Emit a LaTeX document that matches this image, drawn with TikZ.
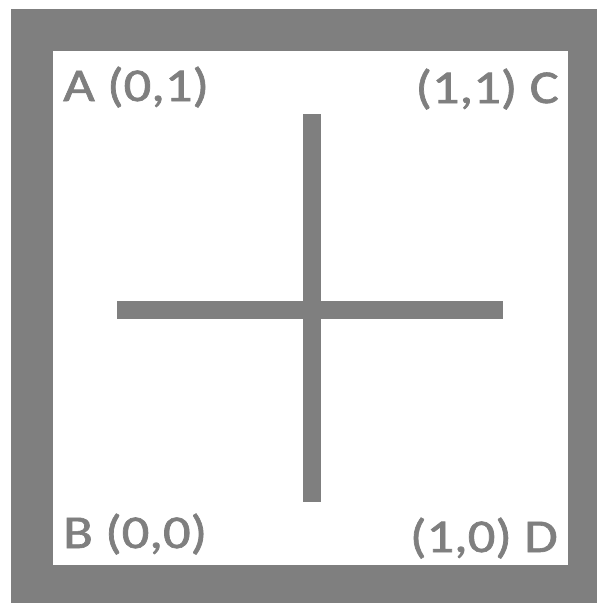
\documentclass[tikz,border=0pt]{standalone}
\usepackage{fontspec}
\setmainfont{Carlito}
\newfontfamily\cornerfont{Carlito}[RawFeature={embolden=1.3}]
\usepackage{tikz}
\usetikzlibrary{positioning,calc}
\definecolor{frame}{HTML}{7F7F7F}
\definecolor{paper}{HTML}{FFFFFF}

\begin{document}
\begin{tikzpicture}[
  x=1pt,y=-1pt,
  corner/.style={font=\cornerfont\fontsize{47}{50}\selectfont,text=frame,inner sep=0pt,xscale=1.16},
  bar/.style={draw=frame,line width=18pt,line cap=butt}]
\useasboundingbox (0,0) rectangle (597,603);
\fill[frame] (11,9) rectangle (597,603);
\fill[paper] (53,51) rectangle (568,565);
% the cross
\coordinate (west) at (117,310);
\coordinate (east) at (503,310);
\coordinate (north) at (312,114);
\coordinate (south) at (312,502);
\draw[bar] (west) -- (east);
\draw[bar] (north) -- (south);
% corner labels
\node[corner,anchor=base west] (A) at (63,101) {A (0,1)};
\node[corner,anchor=base east] (C) at (559,103) {(1,1) C};
\node[corner,anchor=base west] (B) at (63,548) {B (0,0)};
\node[corner,anchor=base east] (D) at (558,552) {(1,0) D};
\end{tikzpicture}
\end{document}
